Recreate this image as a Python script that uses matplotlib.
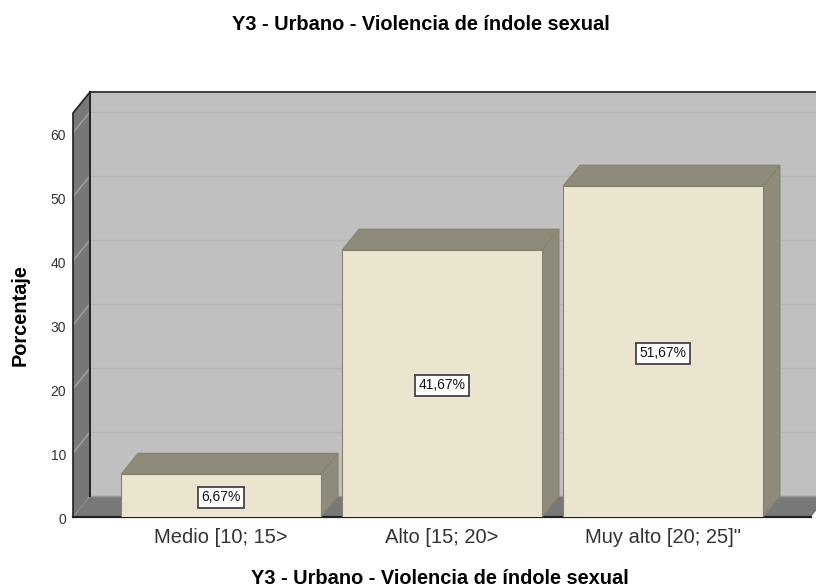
import matplotlib
matplotlib.use("Agg")
import matplotlib.pyplot as plt
from matplotlib.transforms import ScaledTranslation

# values
categories = ["Medio [10; 15>", "Alto [15; 20>", 'Muy alto [20; 25]"']
percent = [6.67, 41.67, 51.67]
percent_labels = ["6,67%", "41,67%", "51,67%"]
y_ticks = [0, 10, 20, 30, 40, 50, 60]

TITLE = "Y3 - Urbano - Violencia de índole sexual"
W, H = 816, 588

plt.rcParams["font.family"] = ["Liberation Sans", "DejaVu Sans"]

fig = plt.figure(figsize=(W / 100, H / 100), dpi=100)
# front plane of the 3D box, in pixels
left, right, bottom, top = 73, 811, 517, 113
ax = fig.add_axes([left / W, 1 - bottom / H, (right - left) / W, (bottom - top) / H])

x_min, x_max = -0.67, 2.67
y_max = 63.1
ax.set_xlim(x_min, x_max)
ax.set_ylim(0, y_max)
dx = 17 / 221     # depth offset along x (data units)
dy = 21 / 6.4     # depth offset along y (data units)

WALL = "#c0c0c0"
SIDE = "#777777"
FLOOR = "#787878"
EDGE = "#222222"
BAR = "#ebe5d0"
BAR_DARK = "#8f8b7a"
BAR_EDGE = "#85826f"

# back wall, left wall, floor
ax.fill([x_min + dx, x_max + dx, x_max + dx, x_min + dx],
        [dy, dy, y_max + dy, y_max + dy], color=WALL, lw=0, clip_on=False, zorder=1)
ax.fill([x_min, x_min + dx, x_min + dx, x_min],
        [0, dy, y_max + dy, y_max], color=SIDE, lw=0, clip_on=False, zorder=1)
ax.fill([x_min, x_min + dx, x_max + dx, x_max],
        [0, dy, dy, 0], color=FLOOR, lw=0, clip_on=False, zorder=1)

# gridlines run along the left wall and then the back wall
for t in y_ticks[1:]:
    ax.plot([x_min, x_min + dx], [t, t + dy], color="#a3a3a3", lw=1, clip_on=False, zorder=2)
    ax.plot([x_min + dx, x_max + dx], [t + dy, t + dy], color="#b4b4b4", lw=1, clip_on=False, zorder=2)

# box edges
ax.plot([x_min, x_min, x_min + dx, x_max + dx], [0, y_max, y_max + dy, y_max + dy],
        color=EDGE, lw=1.2, clip_on=False, zorder=3)
ax.plot([x_min + dx, x_min + dx], [dy, y_max + dy], color=EDGE, lw=1.4, clip_on=False, zorder=3)
ax.plot([x_min, x_max], [0, 0], color=EDGE, lw=1.6, clip_on=False, zorder=3)
ax.plot([x_min + dx, x_max + dx], [dy, dy], color="#999999", lw=1, clip_on=False, zorder=2)

# bars with a top and a right side
bar_w = 200 / 221
for i, val in enumerate(percent):
    x0 = i - bar_w / 2
    x1 = i + bar_w / 2
    ax.fill([x0, x1, x1 + dx, x0 + dx], [val, val, val + dy, val + dy],
            fc=BAR_DARK, ec=BAR_EDGE, lw=0.8, zorder=4)
    ax.fill([x1, x1 + dx, x1 + dx, x1], [0, dy, val + dy, val],
            fc=BAR_DARK, ec=BAR_EDGE, lw=0.8, zorder=4)
ax.bar(range(len(percent)), percent, width=bar_w, color=BAR, edgecolor=BAR_EDGE, lw=0.8, zorder=5)

# value labels in the middle of each bar
for i, val in enumerate(percent):
    ax.text(i, val / 2, percent_labels[i], ha="center", va="center_baseline", fontsize=10,
            color="#111111", zorder=6,
            bbox=dict(boxstyle="square,pad=0.25", fc="white", ec="#444444", lw=1.3))

ax.set_xticks(range(len(categories)))
ax.set_xticklabels(categories, fontsize=14.5, color="#333333")
ax.set_yticks(y_ticks)
ax.tick_params(axis="y", length=0, pad=5, labelsize=10, labelcolor="#333333")
ax.tick_params(axis="x", length=0, pad=8)
# y numbers sit a little below their gridlines
for lab in ax.get_yticklabels():
    lab.set_transform(lab.get_transform() + ScaledTranslation(0, -2 / 100, fig.dpi_scale_trans))
for s in ax.spines.values():
    s.set_visible(False)

fig.text(421 / W, 1 - 25 / H, TITLE, ha="center", va="center", fontsize=14.4, fontweight="bold")
fig.text(440 / W, 1 - 578 / H, TITLE, ha="center", va="center", fontsize=14.4, fontweight="bold")
fig.text(20 / W, 1 - 315 / H, "Porcentaje", rotation=90, ha="center", va="center",
         fontsize=14.4, fontweight="bold")

fig.savefig("out.png", dpi=100, facecolor="white")
